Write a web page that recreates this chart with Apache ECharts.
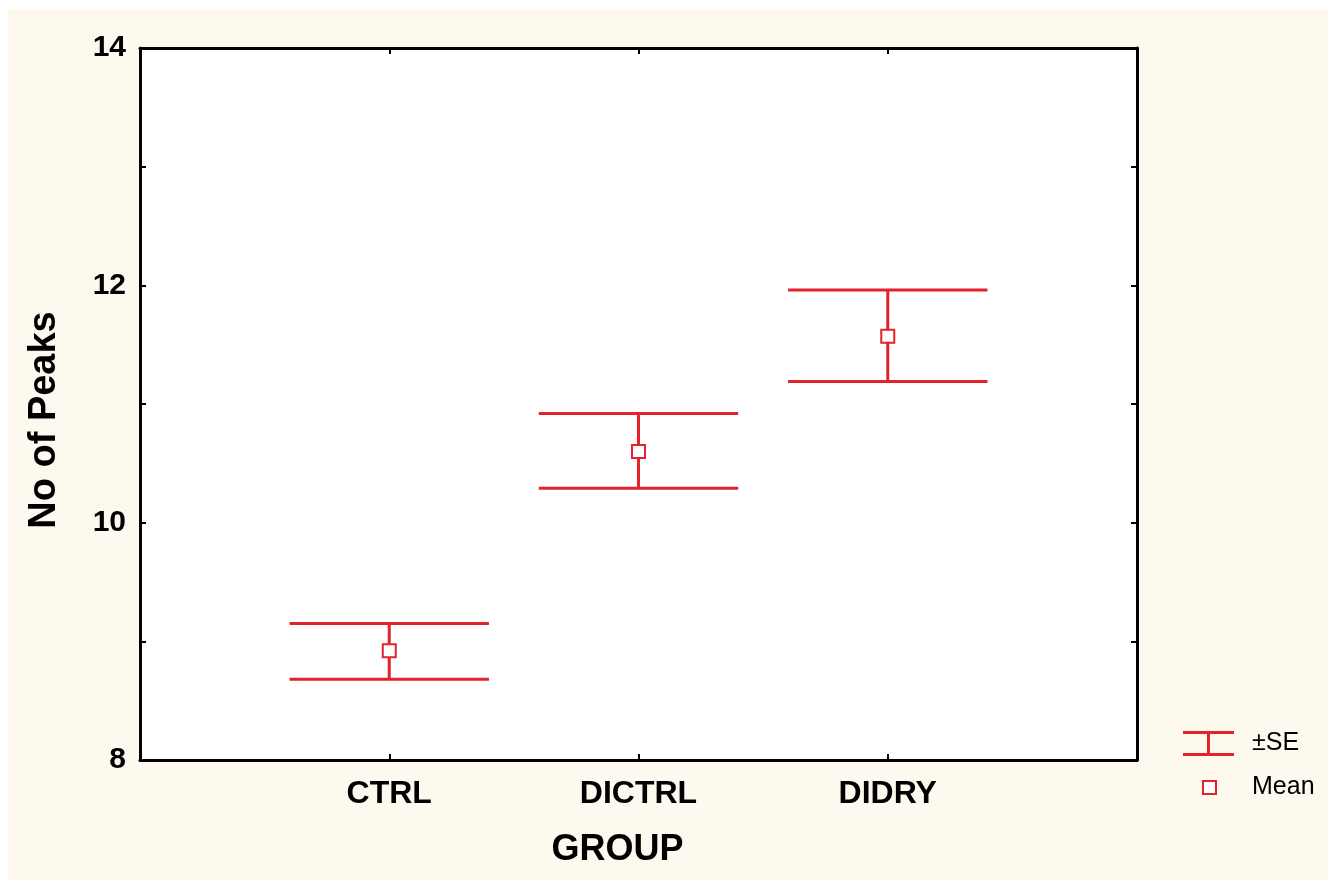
<!DOCTYPE html>
<html>
<head>
<meta charset="utf-8">
<script src="https://cdn.jsdelivr.net/npm/echarts@6/dist/echarts.min.js"></script>
<style>
    html, body {margin: 0; padding: 0; background: #ffffff;}
    #chart {position: absolute; left: 8px; top: 9px; width: 1320px; height: 871px; background: #fdf9ef;}
</style>
</head>
<body>
<div id="chart"></div>
<script>
// group means with +/- standard error
const groups = ['CTRL', 'DICTRL', 'DIDRY'];
const means = [8.92, 10.60, 11.57];
const seUpper = [9.15, 10.92, 11.96];
const seLower = [8.68, 10.29, 11.19];

const red = '#e3222b';
const font = '"Liberation Sans", Arial, sans-serif';

const errData = groups.map((g, i) => [i + 1, seLower[i], seUpper[i]]);
const meanData = groups.map((g, i) => [i + 1, means[i]]);

const tickStyle = {show: true, inside: true, length: 6, lineStyle: {color: '#000', width: 2}};
const lineStyle = {show: true, onZero: false, lineStyle: {color: '#000', width: 3}};

const option = {
    animation: false,
    grid: {left: 132, top: 39, right: 191, bottom: 120, show: true, backgroundColor: '#fff', borderWidth: 0},
    legend: [
        {
            data: [{name: '±SE', icon: 'path://M0,0H51V3H27V22H51V25H0V22H24V3H0Z'}],
            left: 1170, top: 717, itemWidth: 51, itemHeight: 25, selectedMode: false,
            textStyle: {fontFamily: font, fontSize: 25, color: '#000', padding: [0, 0, 0, 13]}
        },
        {
            data: [{name: 'Mean', icon: 'rect', itemStyle: {color: '#fff', borderColor: red, borderWidth: 2}}],
            left: 1189, top: 761, itemWidth: 13, itemHeight: 13, selectedMode: false,
            textStyle: {fontFamily: font, fontSize: 25, color: '#000', padding: [0, 0, 0, 31]}
        }
    ],
    xAxis: [
        {
            type: 'value', min: 0, max: 4, interval: 1, position: 'bottom',
            name: 'GROUP', nameLocation: 'middle', nameGap: 72,
            nameTextStyle: {fontFamily: font, fontSize: 36, fontWeight: 'bold', color: '#000', padding: [0, 42, 0, 0]},
            axisLine: lineStyle, axisTick: tickStyle, splitLine: {show: false},
            axisLabel: {
                margin: 18, fontFamily: font, fontSize: 32, fontWeight: 'bold', color: '#000',
                formatter: v => groups[v - 1] || ''
            }
        },
        {
            type: 'value', min: 0, max: 4, interval: 1, position: 'top',
            axisLine: lineStyle, axisTick: tickStyle, splitLine: {show: false}, axisLabel: {show: false}
        }
    ],
    yAxis: [
        {
            type: 'value', min: 8, max: 14, interval: 1, position: 'left',
            name: 'No of Peaks', nameLocation: 'middle', nameGap: 76, nameRotate: 90,
            nameTextStyle: {fontFamily: font, fontSize: 38, fontWeight: 'bold', color: '#000', padding: [0, 32, 0, 0]},
            axisLine: lineStyle, axisTick: tickStyle, splitLine: {show: false},
            axisLabel: {
                margin: 14, fontFamily: font, fontSize: 30, fontWeight: 'bold', color: '#000',
                formatter: v => (v % 2 === 0 ? String(v) : '')
            }
        },
        {
            type: 'value', min: 8, max: 14, interval: 1, position: 'right',
            axisLine: lineStyle, axisTick: tickStyle, splitLine: {show: false}, axisLabel: {show: false}
        }
    ],
    series: [
        {
            name: '±SE',
            type: 'custom',
            itemStyle: {color: red},
            data: errData,
            renderItem: (params, api) => {
                const x = api.value(0);
                const lo = api.value(1);
                const hi = api.value(2);
                const hw = 0.4;
                const aL = api.coord([x - hw, lo]);
                const bL = api.coord([x + hw, lo]);
                const aH = api.coord([x - hw, hi]);
                const bH = api.coord([x + hw, hi]);
                const cL = api.coord([x, lo]);
                const cH = api.coord([x, hi]);
                const st = {stroke: red, lineWidth: 3};
                return {
                    type: 'group',
                    children: [
                        {type: 'line', shape: {x1: aH[0], y1: aH[1], x2: bH[0], y2: bH[1]}, style: st},
                        {type: 'line', shape: {x1: aL[0], y1: aL[1], x2: bL[0], y2: bL[1]}, style: st},
                        {type: 'line', shape: {x1: cL[0], y1: cL[1], x2: cH[0], y2: cH[1]}, style: st}
                    ]
                };
            }
        },
        {
            name: 'Mean',
            type: 'scatter',
            symbol: 'rect',
            symbolSize: 13,
            z: 5,
            itemStyle: {color: '#fff', borderColor: red, borderWidth: 2, opacity: 1},
            data: meanData
        }
    ]
};

const chart = echarts.init(document.getElementById('chart'));
chart.setOption(option);
</script>
</body>
</html>
